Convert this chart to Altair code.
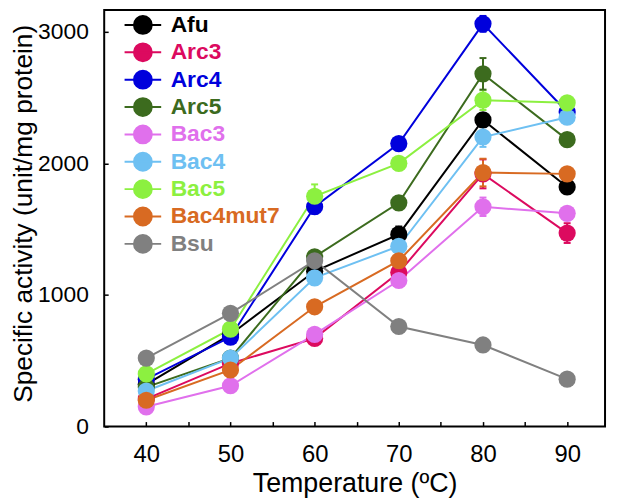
import altair as alt
import pandas as pd

temps = [40, 50, 60, 70, 80, 90]
series = ["Afu", "Arc3", "Arc4", "Arc5", "Bac3", "Bac4", "Bac5", "Bac4mut7", "Bsu"]
colors = ["#000000", "#dc0a5f", "#0000dc", "#3c6b1e", "#e070ec",
          "#6ec0f2", "#8cf040", "#d86a22", "#808080"]

afu = [320, 700, 1180, 1460, 2330, 1820]
arc3 = [210, 480, 670, 1170, 1920, 1470]
arc4 = [360, 680, 1670, 2150, 3060, 2390]
arc5 = [300, 520, 1290, 1700, 2680, 2180]
bac3 = [150, 310, 700, 1110, 1670, 1620]
bac4 = [270, 520, 1130, 1370, 2200, 2350]
bac5 = [400, 740, 1750, 2000, 2480, 2460]
bac4mut7 = [200, 430, 910, 1260, 1930, 1920]
bsu = [520, 860, 1260, 760, 620, 360]

afu_err = [30, 30, 40, 60, 50, 40]
arc3_err = [20, 30, 40, 50, 110, 75]
arc4_err = [30, 40, 50, 40, 60, 40]
arc5_err = [30, 30, 40, 50, 120, 40]
bac3_err = [20, 20, 40, 40, 70, 40]
bac4_err = [30, 30, 40, 40, 75, 40]
bac5_err = [30, 30, 90, 40, 75, 40]
bac4mut7_err = [30, 30, 40, 50, 105, 40]
bsu_err = [30, 30, 40, 30, 30, 30]

values = [afu, arc3, arc4, arc5, bac3, bac4, bac5, bac4mut7, bsu]
errors = [afu_err, arc3_err, arc4_err, arc5_err, bac3_err, bac4_err,
          bac5_err, bac4mut7_err, bsu_err]

rows = []
for i, (name, vals, errs) in enumerate(zip(series, values, errors)):
    for t, v, e in zip(temps, vals, errs):
        rows.append({"series": name, "order": i, "temp": t, "value": v,
                     "lo": v - e, "hi": v + e})
df = pd.DataFrame(rows)

legend_path = ("M-1.42,0L1.42,0M-0.69,0A0.69,0.69 0 1,0 0.69,0"
               "A0.69,0.69 0 1,0 -0.69,0Z")
by_color = {"expr": "scale('color', datum.value)"}

color = alt.Color(
    "series:N",
    scale=alt.Scale(domain=series, range=colors),
    sort=series,
    legend=alt.Legend(
        title=None, orient="none", legendX=25, legendY=1, padding=0,
        symbolType=legend_path, symbolSize=676, symbolStrokeWidth=2,
        symbolFillColor=by_color, symbolStrokeColor=by_color, symbolOpacity=1,
        labelFont="Liberation Sans", labelFontSize=23, labelFontWeight="bold",
        labelColor=by_color,
        labelOffset=14, rowPadding=0.6, labelLimit=300,
    ),
)

x = alt.X("temp:Q", title="Temperature (ºC)",
          scale=alt.Scale(domain=[35, 94.5], nice=False, zero=False),
          axis=alt.Axis(values=[40, 45, 50, 55, 60, 65, 70, 75, 80, 85, 90],
                        labelExpr="datum.value % 10 == 0 ? datum.label : ''",
                        grid=False, domain=False, tickSize={"expr": "-5"},
                        tickColor="black", tickWidth=1.5,
                        labelFont="Liberation Sans", labelFontSize=24,
                        labelColor="black", labelPadding=21,
                        titleFont="Liberation Sans", titleFontSize=27,
                        titleFontWeight="normal", titleColor="black",
                        titlePadding=4))
y = alt.Y("value:Q", title="Specific activity (unit/mg protein)",
          scale=alt.Scale(domain=[0, 3165], nice=False),
          axis=alt.Axis(values=[0, 1000, 2000, 3000], format="d",
                        grid=False, domain=False, tickSize={"expr": "-4"},
                        tickColor="black", tickWidth=1.5,
                        labelFont="Liberation Sans", labelFontSize=23,
                        labelColor="black", labelPadding=20,
                        titleFont="Liberation Sans", titleFontSize=26.5,
                        titleFontWeight="normal", titleColor="black",
                        titlePadding=0, titleY=205))

base = alt.Chart(df)

lines = base.mark_line(strokeWidth=2).encode(
    x=x, y=y, color=color, order="temp:Q")
bars = base.mark_rule(strokeWidth=2).encode(
    x="temp:Q", y="lo:Q", y2="hi:Q", color=color)
caps_hi = base.mark_point(shape="M-1,0L1,0", size=49, strokeWidth=2,
                          filled=False, opacity=1).encode(
    x="temp:Q", y="hi:Q", color=color)
caps_lo = base.mark_point(shape="M-1,0L1,0", size=49, strokeWidth=2,
                          filled=False, opacity=1).encode(
    x="temp:Q", y="lo:Q", color=color)
points = base.mark_circle(size=300, opacity=1).encode(
    x="temp:Q", y="value:Q", color=color, order="order:Q")

chart = alt.layer(lines, bars, caps_hi, caps_lo, points).properties(
    width=505, height=420,
    background="white",
    autosize=alt.AutoSizeParams(type="none"),
    padding={"left": 97, "top": 0, "right": 4, "bottom": 70},
).configure_view(stroke="black", strokeWidth=2)

chart.save("out.html", embed_options={"renderer": "svg", "actions": False})
